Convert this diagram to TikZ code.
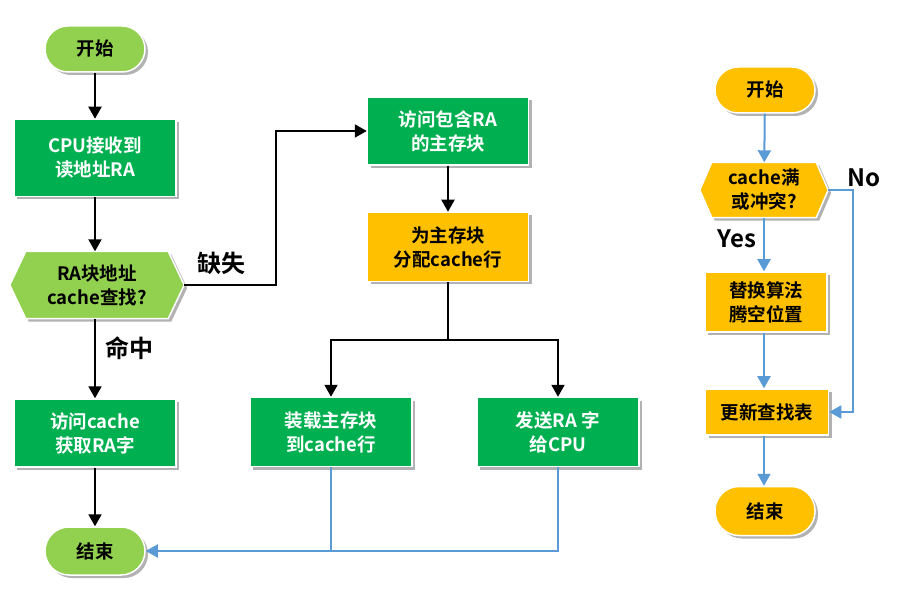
\documentclass[tikz,border=0pt]{standalone}
\usepackage{fontspec}
\setmainfont{Noto Sans CJK SC}[BoldFont={Noto Sans CJK SC Bold}]
\usetikzlibrary{arrows.meta,shadows,backgrounds,calc}
\definecolor{gr}{HTML}{00B050}
\definecolor{lg}{HTML}{92D050}
\definecolor{yl}{HTML}{FFC000}
\definecolor{bl}{HTML}{5B9BD5}
\tikzset{
  shd/.style={drop shadow={shadow xshift=3pt,shadow yshift=-3pt,opacity=0.3,fill=black}},
  base/.style={draw=white,line width=1.5pt,inner sep=0pt,align=center,
    font=\fontsize{18.5}{24}\selectfont\bfseries,shd},
  gbox/.style={base,fill=gr,text=white},
  ybox/.style={base,fill=yl,text=black},
  gpill/.style={base,fill=lg,text=black,rounded corners=23pt,minimum width=100pt,minimum height=46pt},
  ypill/.style={base,fill=yl,text=black,rounded corners=23pt,minimum width=100pt,minimum height=46pt},
  hexnode/.style={inner sep=0pt,align=center,font=\fontsize{18.5}{24}\selectfont\bfseries},
  lbl/.style={font=\fontsize{24}{27}\selectfont\bfseries,text=black},
  blk/.style={line width=2pt,draw=black},
  blkarr/.style={blk,-{Triangle[width=13pt,length=12pt]}},
  blu/.style={line width=2pt,draw=bl},
  bluarr/.style={blu,-{Triangle[width=13pt,length=12pt]}},
}
\begin{document}
\begin{tikzpicture}[x=1pt,y=-1pt]
\useasboundingbox (0,0) rectangle (902,593);
% left flow
\node[gpill] (s1) at (95,49) {开始};
\node[gbox,minimum width=162pt,minimum height=77pt] (cpu) at (95,158) {CPU接收到\\读地址RA};
\node[hexnode,minimum width=174pt,minimum height=67pt] (dec) at (97,285) {RA块地址\\cache查找?};
\node[gbox,minimum width=162pt,minimum height=68pt] (hit) at (95,433) {访问cache\\获取RA字};
\node[gpill,minimum height=48pt,rounded corners=24pt] (e1) at (95,551) {结束};
\node[gbox,minimum width=161pt,minimum height=68pt] (mem) at (448,131) {访问包含RA\\的主存块};
\node[ybox,minimum width=161pt,minimum height=69pt] (alloc) at (448,247) {为主存块\\分配cache行};
\node[gbox,minimum width=162pt,minimum height=69pt] (load) at (331,432) {装载主存块\\到cache行};
\node[gbox,minimum width=162pt,minimum height=69pt] (send) at (558,432) {发送RA 字\\给CPU};
\node[lbl] (miss) at (221,263) {缺失};
\node[lbl] (hitl) at (129,348) {命中};
% right flow
\node[ypill] (rs) at (765,90) {开始};
\node[hexnode,minimum width=128pt,minimum height=55pt] (rdec) at (764,190) {cache满\\或冲突?};
\node[ybox,minimum width=122pt,minimum height=60pt] (repl) at (766,302) {替换算法\\腾空位置};
\node[ybox,minimum width=123pt,minimum height=46pt] (upd) at (767,412) {更新查找表};
\node[ypill,minimum height=49pt,rounded corners=24pt] (re) at (765,511) {结束};
\node[lbl] (nol) at (864,178) {No};
\node[lbl] (yesl) at (737,239) {Yes};
\begin{scope}[on background layer]
\path[fill=lg,draw=white,line width=1.5pt,shd] (dec.west) -- ([xshift=16pt]dec.north west) -- ([xshift=-16pt]dec.north east) -- (dec.east) -- ([xshift=-16pt]dec.south east) -- ([xshift=16pt]dec.south west) -- cycle;
\path[fill=yl,draw=white,line width=1.5pt,shd] (rdec.west) -- ([xshift=12pt]rdec.north west) -- ([xshift=-12pt]rdec.north east) -- (rdec.east) -- ([xshift=-12pt]rdec.south east) -- ([xshift=12pt]rdec.south west) -- cycle;
\end{scope}
% connectors left
\draw[blkarr] (s1) -- (cpu);
\draw[blkarr] (cpu) -- (cpu |- dec.north);
\draw[blkarr] (hit |- dec.south) -- (hit);
\draw[blkarr] (hit) -- (e1);
\draw[blkarr] (dec.east) -- ++(92,0) |- (mem.west);
\draw[blkarr] (mem) -- (alloc);
\coordinate (j) at (448,340);
\draw[blk] (alloc.south) -- (j);
\draw[blkarr] (j) -| (load.north);
\draw[blkarr] (j) -| (send.north);
\draw[blu] (load.south) -- (load.south |- e1.east);
\draw[bluarr] (send.south) |- (e1.east);
% connectors right
\draw[bluarr] (rs) -- (rdec);
\draw[bluarr] (rdec.south) -- (repl.north -| rdec.south);
\draw[bluarr] (repl.south -| rdec.south) -- (upd.north -| rdec.south);
\draw[bluarr] (upd.south -| rdec.south) -- (re.north -| rdec.south);
\draw[bluarr] (rdec.east) -- ++(25,0) |- (upd.east);
\end{tikzpicture}
\end{document}
